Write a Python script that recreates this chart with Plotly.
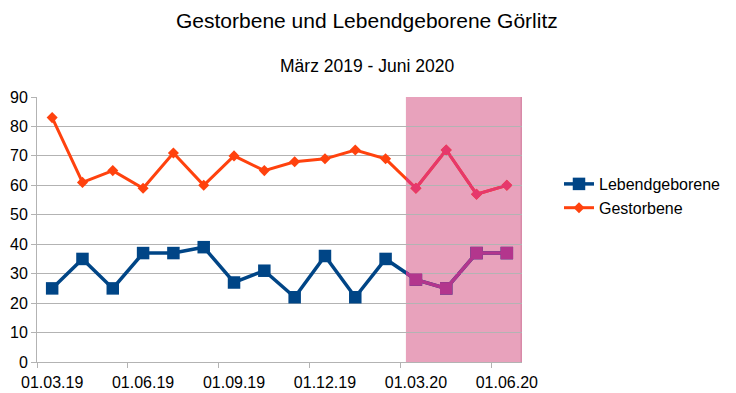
import plotly.graph_objects as go

months = ["03.2019", "04.2019", "05.2019", "06.2019", "07.2019", "08.2019",
          "09.2019", "10.2019", "11.2019", "12.2019", "01.2020", "02.2020",
          "03.2020", "04.2020", "05.2020", "06.2020"]
lebendgeborene = [25, 35, 25, 37, 37, 39, 27, 31, 22, 36, 22, 35, 28, 25, 37, 37]
gestorbene = [83, 61, 65, 59, 71, 60, 70, 65, 68, 69, 72, 69, 59, 72, 57, 60]
tick_labels = ["01.03.19", "01.06.19", "01.09.19", "01.12.19", "01.03.20", "01.06.20"]
tick_idx = [0, 3, 6, 9, 12, 15]
y_ticks = list(range(0, 100, 10))

x = list(range(len(months)))
shade_start = 11.67
x_min, x_max = -0.5, len(months) - 0.5

BLUE = "#004586"
RED = "#ff420e"
PURPLE = "#b3368d"
PINKRED = "#e6386c"
FONT = "Liberation Sans, Arial, sans-serif"

fig = go.Figure()
fig.add_trace(go.Scatter(x=x, y=lebendgeborene, name="Lebendgeborene", mode="lines+markers",
                         line=dict(color=BLUE, width=3.5),
                         marker=dict(symbol="square", size=12.5, color=BLUE)))
fig.add_trace(go.Scatter(x=x, y=gestorbene, name="Gestorbene", mode="lines+markers",
                         line=dict(color=RED, width=3),
                         marker=dict(symbol="diamond", size=8.5, color=RED)))
# tinted copies inside the shaded period
fig.add_trace(go.Scatter(x=x, y=lebendgeborene, xaxis="x2", yaxis="y", showlegend=False,
                         mode="lines+markers", hoverinfo="skip",
                         line=dict(color=PURPLE, width=3.5),
                         marker=dict(symbol="square", size=12.5, color=PURPLE)))
fig.add_trace(go.Scatter(x=x, y=gestorbene, xaxis="x2", yaxis="y", showlegend=False,
                         mode="lines+markers", hoverinfo="skip",
                         line=dict(color=PINKRED, width=3),
                         marker=dict(symbol="diamond", size=8.5, color=PINKRED)))

fig.add_shape(type="rect", xref="x", yref="paper", x0=shade_start, x1=x_max, y0=0, y1=1,
              fillcolor="#e8a2bc", line=dict(width=0), layer="below")
fig.add_shape(type="line", xref="x", yref="paper", x0=x_max, x1=x_max, y0=0, y1=1,
              line=dict(color="#d88aa8", width=3), layer="below")

dom0 = (shade_start - x_min) / (x_max - x_min)

fig.update_layout(
    width=736, height=393,
    margin=dict(l=37, r=214, t=97, b=31, autoexpand=False),
    paper_bgcolor="white", plot_bgcolor="rgba(0,0,0,0)",
    font=dict(family=FONT, size=16, color="#000000"),
    xaxis=dict(range=[x_min, x_max], domain=[0, 1], automargin=False,
               tickvals=tick_idx, ticktext=tick_labels, ticks="outside", ticklen=6,
               tickcolor="rgba(0,0,0,0)",
               showgrid=False, zeroline=False, showline=True, linecolor="#b3b3b3", linewidth=1,
               tickfont=dict(size=16, color="#000000"),
               minor=dict(tickvals=[i - 0.5 for i in tick_idx], ticks="outside", ticklen=5,
                          tickcolor="#b3b3b3", showgrid=False)),
    xaxis2=dict(range=[shade_start, x_max], domain=[dom0, 1], anchor="y",
                visible=False, showgrid=False, zeroline=False),
    yaxis=dict(range=[0, 90], tickvals=y_ticks, ticks="outside", ticklen=5, tickcolor="#b3b3b3",
               automargin=False,
               showgrid=True, gridcolor="#b3b3b3", gridwidth=1, zeroline=False,
               showline=True, linecolor="#b3b3b3", linewidth=1,
               tickfont=dict(size=16, color="#000000")),
    legend=dict(xref="container", yref="container", x=559 / 736, y=1 - 167 / 393,
                xanchor="left", yanchor="top", font=dict(size=16), bgcolor="rgba(0,0,0,0)",
                tracegroupgap=0),
    showlegend=True,
    annotations=[
        dict(text="Gestorbene und Lebendgeborene Görlitz", xref="paper", yref="paper",
             x=(367 - 37) / 485, y=1 + (97 - 20) / 265, xanchor="center", yanchor="middle",
             showarrow=False, font=dict(size=21, color="#000000")),
        dict(text="März 2019 - Juni 2020", xref="paper", yref="paper",
             x=(367 - 37) / 485, y=1 + (97 - 66) / 265, xanchor="center", yanchor="middle",
             showarrow=False, font=dict(size=17.5, color="#000000")),
    ],
)

fig.write_html("out.html", config={"displayModeBar": False},
               post_script="document.body.style.margin='0';document.body.style.overflow='hidden';")
